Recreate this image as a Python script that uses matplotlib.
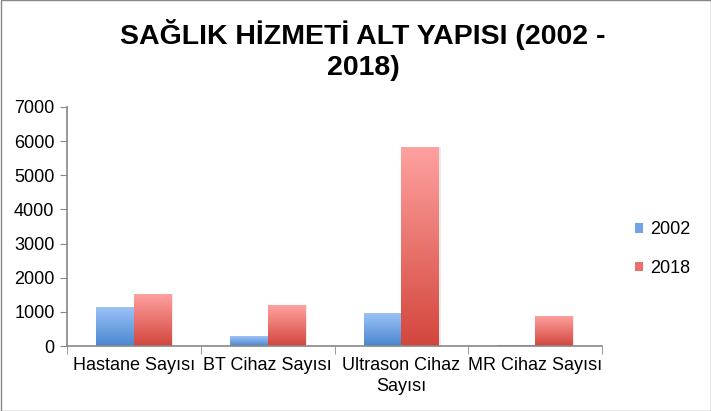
import matplotlib.pyplot as plt
import numpy as np
from matplotlib.colors import LinearSegmentedColormap
from matplotlib.patches import Rectangle

plt.rcParams['font.family'] = ['Liberation Sans', 'DejaVu Sans']

categories = ['Hastane Sayısı', 'BT Cihaz Sayısı', 'Ultrason Cihaz\nSayısı', 'MR Cihaz Sayısı']
series = ['2002', '2018']
values_2002 = [1150, 290, 970, 30]
values_2018 = [1530, 1200, 5840, 890]

grad_blue = LinearSegmentedColormap.from_list('b', ['#4a86cf', '#9dc4f8'])
grad_red = LinearSegmentedColormap.from_list('r', ['#d2463c', '#ffa2a0'])

fig = plt.figure(figsize=(7.11, 4.11), dpi=100)
ax = fig.add_axes([67 / 711, 65 / 411, 535 / 711, 239 / 411])

x = np.arange(len(categories))
w = 0.283
grad = np.linspace(0, 1, 256).reshape(-1, 1)
for vals, cmap, off in [(values_2002, grad_blue, -w / 2), (values_2018, grad_red, w / 2)]:
    bars = ax.bar(x + off, vals, w, color='none', edgecolor='none')
    for b in bars:
        x0, y0 = b.get_x(), b.get_y()
        bw, bh = b.get_width(), b.get_height()
        # soft shadow
        ax.add_patch(Rectangle((x0 + 0.01, y0), bw, bh, facecolor='#000000', alpha=0.08,
                               edgecolor='none', zorder=1))
        im = ax.imshow(grad, cmap=cmap, aspect='auto', origin='lower',
                       extent=[x0, x0 + bw, y0, y0 + bh], zorder=2)
        im.set_clip_path(b)

ax.set_xlim(-0.5, len(categories) - 0.5)
ax.set_ylim(0, 7000)
ax.set_yticks(range(0, 7001, 1000))
ax.set_xticks(x)
ax.set_xticklabels(categories, fontsize=13, linespacing=1.3)
ax.set_xticks(np.arange(-0.5, len(categories), 1), minor=True)
ax.tick_params(axis='x', which='major', length=0, pad=8)
ax.tick_params(axis='x', which='minor', length=6, color='#888888', direction='out')
ax.tick_params(axis='y', length=5, color='#888888', labelsize=13, pad=4)
for s in ['top', 'right']:
    ax.spines[s].set_visible(False)
for s in ['left', 'bottom']:
    ax.spines[s].set_color('#888888')
    ax.spines[s].set_linewidth(1.2)

fig.text(363 / 711, 1 - 35 / 411, 'SAĞLIK HİZMETİ ALT YAPISI (2002 -', ha='center', va='center',
         fontsize=20.5, fontweight='bold')
fig.text(363 / 711, 1 - 68 / 411, '2018)', ha='center', va='center',
         fontsize=20.5, fontweight='bold')

handles = [Rectangle((0, 0), 1, 1, facecolor='#6fa3e6'), Rectangle((0, 0), 1, 1, facecolor='#eb6f6a')]
fig.legend(handles, series, loc='center left', bbox_to_anchor=(619 / 711, 1 - 249 / 411),
           frameon=False, fontsize=13, handlelength=0.45, handleheight=0.45,
           handletextpad=0.35, labelspacing=1.2)

fig.patches.append(Rectangle((0.5 / 711, 0.5 / 411), 1 - 1 / 711, 1 - 1 / 411,
                             transform=fig.transFigure, fill=False,
                             edgecolor='#888888', linewidth=1))

fig.savefig('out.png', dpi=100)
